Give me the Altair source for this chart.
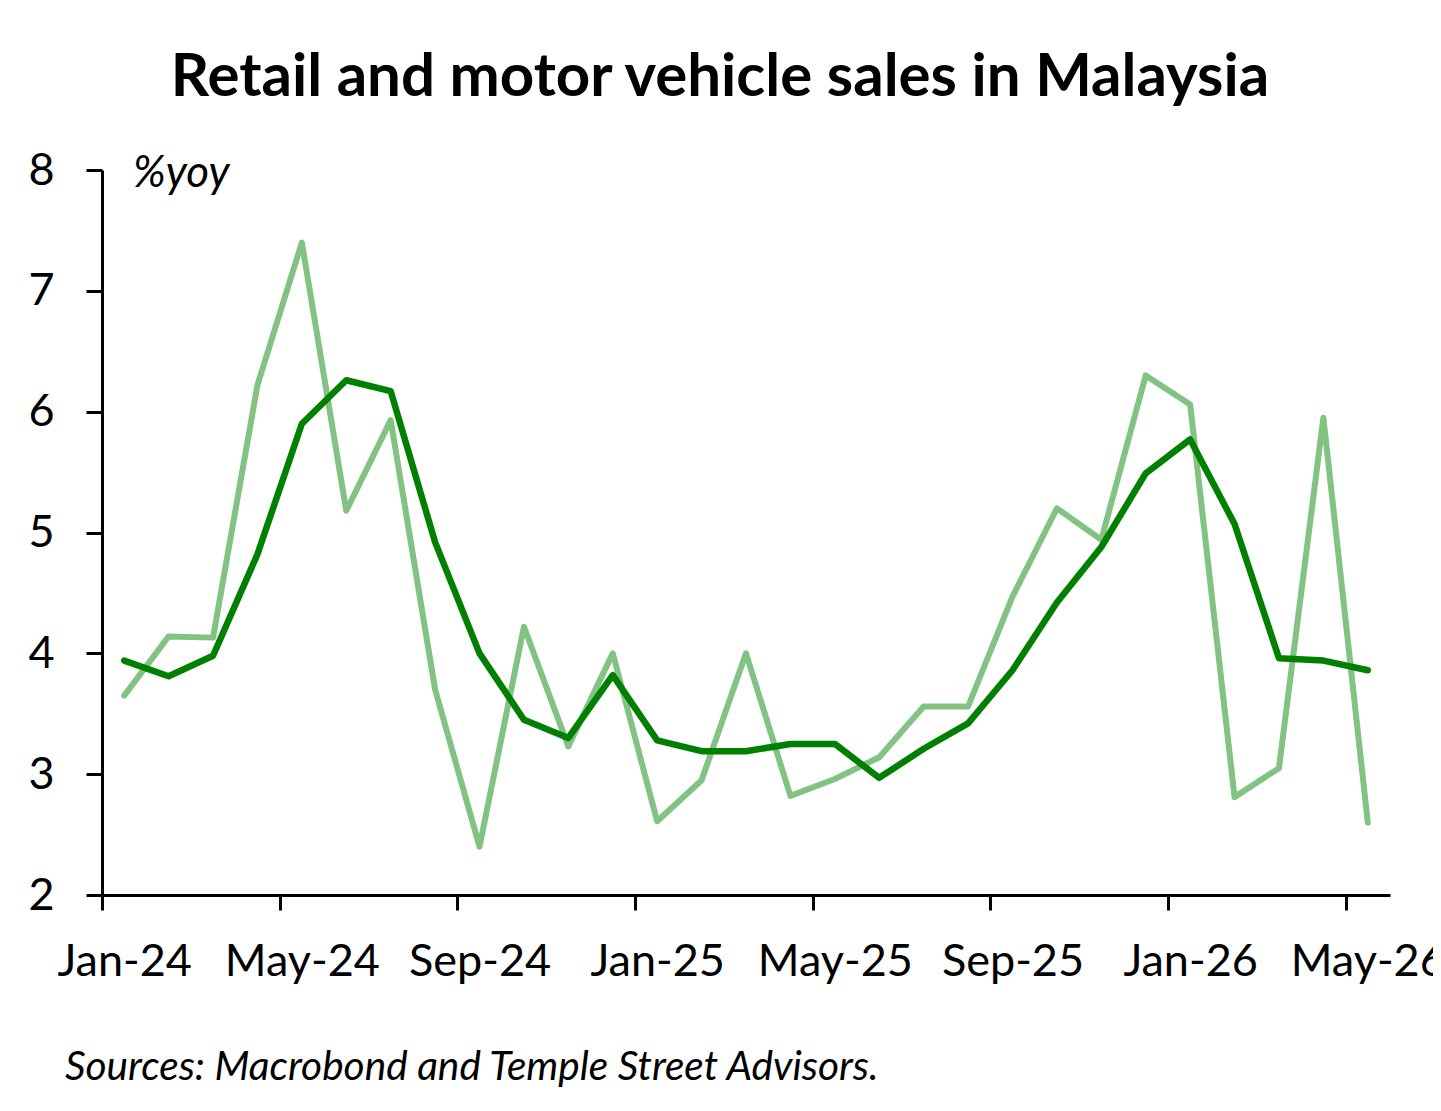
import altair as alt
import pandas as pd

# ---- data ----
months = ["Jan-24", "Feb-24", "Mar-24", "Apr-24", "May-24", "Jun-24", "Jul-24", "Aug-24",
          "Sep-24", "Oct-24", "Nov-24", "Dec-24", "Jan-25", "Feb-25", "Mar-25", "Apr-25",
          "May-25", "Jun-25", "Jul-25", "Aug-25", "Sep-25", "Oct-25", "Nov-25", "Dec-25",
          "Jan-26", "Feb-26", "Mar-26", "Apr-26", "May-26"]

monthly_yoy = [3.65, 4.14, 4.13, 6.22, 7.40, 5.18, 5.93, 3.70,
               2.40, 4.22, 3.23, 4.00, 2.61, 2.95, 4.00, 2.82,
               2.96, 3.14, 3.56, 3.56, 4.47, 5.20, 4.94, 6.30,
               6.06, 2.81, 3.05, 5.95, 2.60]

avg_3m_yoy = [3.94, 3.81, 3.98, 4.82, 5.90, 6.26, 6.17, 4.92,
              4.00, 3.45, 3.30, 3.82, 3.28, 3.19, 3.19, 3.25,
              3.25, 2.97, 3.21, 3.42, 3.86, 4.42, 4.88, 5.49,
              5.77, 5.07, 3.96, 3.94, 3.86]

tick_labels = ["Jan-24", "May-24", "Sep-24", "Jan-25", "May-25", "Sep-25", "Jan-26", "May-26"]
y_ticks = [2, 3, 4, 5, 6, 7, 8]

title_text = "Retail and motor vehicle sales in Malaysia"
unit_text = "%yoy"
source_text = "Sources: Macrobond and Temple Street Advisors."

FONT = "Lato"
LIGHT = "#82C283"
DARK = "#008000"

# ---- build table ----
df = pd.DataFrame({
    "idx": list(range(len(months))),
    "month": months,
    "monthly": monthly_yoy,
    "avg3": avg_3m_yoy,
})

# ticks at month boundaries, labels shifted to month centres
tick_vals = [months.index(m) - 0.5 for m in tick_labels]
label_expr = "[" + ",".join("'" + t + "'" for t in tick_labels) + "][indexof([" + \
    ",".join(str(v) for v in tick_vals) + "], datum.value)]"

W, H = 1288, 725
half_month = W / len(months) / 2

x_enc = alt.X(
    "idx:Q",
    scale=alt.Scale(domain=[-0.5, len(months) - 0.5], nice=False, zero=False),
    axis=alt.Axis(
        values=tick_vals, labelExpr=label_expr, title=None, grid=False,
        tickSize=15, tickWidth=3, tickColor="black",
        domainColor="black", domainWidth=3,
        labelFont=FONT, labelFontSize=45, labelColor="black",
        labelBaseline="alphabetic", labelPadding=65, labelOffset=half_month,
        labelFlush=False, labelOverlap=False, labelBound=False,
    ),
)

y_scale = alt.Scale(domain=[2, 8], nice=False, zero=False)
y_axis = alt.Axis(
    values=y_ticks, format="d", title=None, grid=False,
    tickSize=16, tickWidth=3, tickColor="black",
    domainColor="black", domainWidth=3,
    labelFont=FONT, labelFontSize=45, labelColor="black",
    labelPadding=32, labelBaseline="middle",
)

base = alt.Chart(df)

light = base.mark_line(color=LIGHT, strokeWidth=6, strokeJoin="round", strokeCap="round").encode(
    x=x_enc,
    y=alt.Y("monthly:Q", scale=y_scale, axis=y_axis),
)

dark = base.mark_line(color=DARK, strokeWidth=6.5, strokeJoin="round", strokeCap="round").encode(
    x=alt.X("idx:Q"),
    y=alt.Y("avg3:Q"),
)

title = alt.Chart(pd.DataFrame({"t": [title_text]})).mark_text(
    font=FONT, fontSize=60, fontWeight="bold", align="center", baseline="alphabetic", color="black"
).encode(text="t:N", x=alt.value(618), y=alt.value(-74))

unit = alt.Chart(pd.DataFrame({"t": [unit_text]})).mark_text(
    font=FONT, fontSize=44, fontStyle="italic", align="left", baseline="alphabetic", color="black"
).encode(text="t:N", x=alt.value(31), y=alt.value(17))

source = alt.Chart(pd.DataFrame({"t": [source_text]})).mark_text(
    font=FONT, fontSize=40.6, fontStyle="italic", align="left", baseline="alphabetic", color="black"
).encode(text="t:N", x=alt.value(-37), y=alt.value(910))

chart = alt.layer(light, dark, title, unit, source).properties(
    width=W, height=H,
    background="white",
    autosize=alt.AutoSizeParams(type="none"),
    padding={"left": 94, "top": 162, "right": 43, "bottom": 200},
).configure_view(stroke=None)

chart.save("out.html", embed_options={"renderer": "svg", "actions": False})
